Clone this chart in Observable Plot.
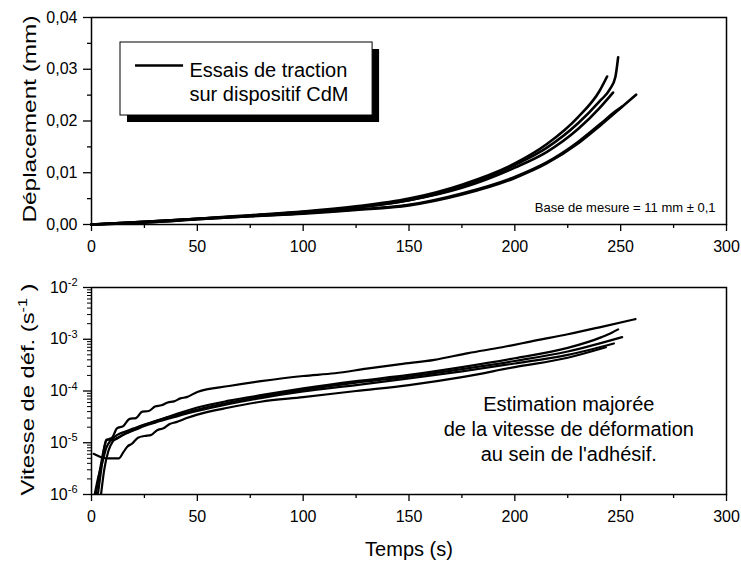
<!DOCTYPE html>
<html><head><meta charset="utf-8">
<script src="https://cdn.jsdelivr.net/npm/d3@7"></script>
<script src="https://cdn.jsdelivr.net/npm/@observablehq/plot@0.6"></script>
<style>
body{margin:0;background:#fff;}
#chart{width:741px;height:562px;background:#fff;}
svg{display:block;}
</style></head><body><div id="chart"></div>
<script>
// ---------- Top panel: Déplacement (mm) vs Temps (s) ----------
const tA = [0,25,50,75,100,125,150,175,200,215,230,240,245,247.5,248.8];
const dA = [0,0.0005,0.0011,0.0017,0.0024,0.0033,0.0047,0.0073,0.0115,0.0148,0.0196,0.0238,0.0262,0.0285,0.0323];
const tB = [0,25,50,75,100,125,150,175,200,215,230,240,243.6];
const dB = [0,0.0005,0.0011,0.0018,0.0025,0.0035,0.0050,0.0077,0.0118,0.0155,0.0208,0.0258,0.0286];
const tC = [0,25,50,75,100,125,150,175,200,215,230,240,246.4];
const dC = [0,0.0005,0.0011,0.0017,0.0024,0.0033,0.0047,0.0071,0.0110,0.0140,0.0185,0.0225,0.0255];
const tD = [0,25,50,75,100,125,150,175,200,215,230,240,250,257.3];
const dD = [0,0.0004,0.0010,0.0016,0.0021,0.0028,0.0037,0.0058,0.0090,0.0118,0.0157,0.0190,0.0225,0.0251];
const tE = [0,25,50,75,100,125,150,175,200,215,230,240,248,250.7];
const dE = [0,0.0004,0.0010,0.0016,0.0022,0.0029,0.0038,0.0060,0.0092,0.0120,0.0160,0.0193,0.0220,0.0228];

// ---------- Bottom panel: Vitesse de déformation (s-1) vs Temps (s) ----------
const tR1 = [2,4,6,7,10,12,15,18,21,24,27,30,33,36,39,42,45,50,65,80,100,115,130,146,162,178,194,210,225,240,257];
const vR1 = [1e-6,3e-6,8e-6,1.1e-5,1.3e-5,1.9e-5,2.1e-5,2.9e-5,3.0e-5,4.0e-5,4.1e-5,5.0e-5,5.3e-5,6.0e-5,6.3e-5,7.2e-5,7.6e-5,9.6e-5,1.25e-4,1.55e-4,1.95e-4,2.2e-4,2.7e-4,3.3e-4,4.0e-4,5.4e-4,7.0e-4,9.5e-4,1.25e-3,1.7e-3,2.45e-3];
const tR2 = [1.5,3,5,7,9,12,16,20,25,30,40,50,65,80,100,125,150,175,200,225,241,246,248.8];
const vR2 = [1e-6,2e-6,4e-6,8e-6,1.1e-5,1.4e-5,1.65e-5,1.9e-5,2.25e-5,2.6e-5,3.6e-5,4.8e-5,6.5e-5,8.3e-5,1.12e-4,1.55e-4,2.05e-4,2.9e-4,4.3e-4,6.8e-4,1.1e-3,1.35e-3,1.55e-3];
const tR3 = [3,5,6,7,11,12,16,20,25,30,40,50,65,80,100,125,150,175,200,225,250.7];
const vR3 = [1e-6,4e-6,8e-6,1.15e-5,1.15e-5,1.2e-5,1.5e-5,1.8e-5,2.2e-5,2.6e-5,3.4e-5,4.4e-5,6.0e-5,7.8e-5,1.05e-4,1.45e-4,1.9e-4,2.65e-4,3.8e-4,5.8e-4,1.1e-3];
const tR4 = [4.5,6,8,10,13,17,21,25,30,40,50,65,80,100,125,150,175,200,225,246.8];
const vR4 = [1e-6,3e-6,7e-6,1.05e-5,1.3e-5,1.55e-5,1.8e-5,2.1e-5,2.45e-5,3.2e-5,4.1e-5,5.6e-5,7.3e-5,9.8e-5,1.3e-4,1.75e-4,2.4e-4,3.4e-4,5.0e-4,8.3e-4];
const tR5 = [1,3,5,8,13,15,17,19,22,25,28,31,34,37,40,45,50,65,80,100,125,150,175,200,225,243];
const vR5 = [6.1e-6,5.6e-6,5.2e-6,5.0e-6,5.0e-6,6.5e-6,8.5e-6,9.5e-6,1.25e-5,1.35e-5,1.4e-5,1.75e-5,1.9e-5,2.3e-5,2.5e-5,3.0e-5,3.5e-5,4.8e-5,6.2e-5,7.6e-5,1.0e-4,1.3e-4,1.85e-4,2.9e-4,4.4e-4,7.0e-4];

// ---------- Ticks and texts ----------
const xMajor = [0,50,100,150,200,250,300];
const xMinor = [25,75,125,175,225,275];
const yMajorTop = [0,0.01,0.02,0.03,0.04];
const yMinorTop = [0.005,0.015,0.025,0.035];
const yMajorLog = [1e-6,1e-5,1e-4,1e-3,1e-2];
const yMinorLog = [1e-6,1e-5,1e-4,1e-3].flatMap(p => [2,3,4,5,6,7,8,9].map(m => m*p));
const legendText = "Essais de traction\nsur dispositif CdM";
const baseText = "Base de mesure = 11 mm \u00b1 0,1";
const noteText = "Estimation majorée\nde la vitesse de déformation\nau sein de l'adhésif.";
const yLabelTop = "Déplacement (mm)";
const yLabelBottom = "Vitesse de déf. (s";
const xLabel = "Temps (s)";

const toRows = (name, ts, vs) => ts.map((t, i) => ({serie: name, t, v: vs[i]}));
const topRows = [
  ...toRows("A", tA, dA), ...toRows("B", tB, dB), ...toRows("C", tC, dC),
  ...toRows("D", tD, dD), ...toRows("E", tE, dE)
];
const botRows = [
  ...toRows("R1", tR1, vR1), ...toRows("R2", tR2, vR2), ...toRows("R3", tR3, vR3),
  ...toRows("R4", tR4, vR4), ...toRows("R5", tR5, vR5)
];

const font = "'Liberation Sans', Arial, Helvetica, sans-serif";
const comma = d => d3.format(".2f")(d).replace(".", ",");
const style = {fontFamily: font, fontSize: "16px", background: "white", color: "black", overflow: "visible"};

const topPlot = Plot.plot({
  width: 741, height: 250,
  marginLeft: 91, marginRight: 15, marginTop: 17, marginBottom: 26,
  style,
  x: {domain: [0, 300]},
  y: {domain: [0, 0.04]},
  marks: [
    Plot.axisX({ticks: xMajor, tickSize: 7, tickPadding: 9, tickFormat: d => String(d), label: null, strokeWidth: 1.3}),
    Plot.axisX({ticks: xMinor, tickSize: 4, tickFormat: () => "", label: null, strokeWidth: 1.3}),
    Plot.axisY({ticks: yMajorTop, tickSize: 8, tickPadding: 6, tickFormat: comma, label: null, strokeWidth: 1.3}),
    Plot.axisY({ticks: yMinorTop, tickSize: 4, tickFormat: () => "", label: null, strokeWidth: 1.3}),
    Plot.frame({stroke: "black", strokeWidth: 1.5}),
    Plot.line(topRows, {x: "t", y: "v", z: "serie", stroke: "black", strokeWidth: 2.6, curve: "monotone-x"}),
    // legend box with shadow
    Plot.rect([0], {x1: 13.7, x2: 132.8, y1: 0.03517, y2: 0.02106, fill: "black", dx: 7, dy: 7}),
    Plot.rect([0], {x1: 13.7, x2: 132.8, y1: 0.03517, y2: 0.02106, fill: "white", stroke: "black", strokeWidth: 1}),
    Plot.ruleY([0.03072], {x1: 20.8, x2: 43.5, stroke: "black", strokeWidth: 2.6}),
    Plot.text([legendText], {x: 46.3, y: 0.03183, text: d => d, textAnchor: "start", lineAnchor: "top", lineHeight: 1.2, fontSize: 20}),
    Plot.text([baseText], {x: 294.8, y: 0.00319, text: d => d, textAnchor: "end", fontSize: 13}),
    Plot.text([yLabelTop], {frameAnchor: "left", text: d => d, textAnchor: "middle", lineAnchor: "middle", rotate: -90, dx: -62, dy: -2, fontSize: 19, ariaLabel: () => "ylab-top"})
  ]
});

const botPlot = Plot.plot({
  width: 741, height: 312,
  marginLeft: 91, marginRight: 15, marginTop: 37, marginBottom: 68,
  style,
  x: {domain: [0, 300]},
  y: {type: "log", domain: [1e-6, 1e-2]},
  marks: [
    Plot.axisX({ticks: xMajor, tickSize: 7, tickPadding: 9, tickFormat: d => String(d), label: null, strokeWidth: 1.3}),
    Plot.axisX({ticks: xMinor, tickSize: 4, tickFormat: () => "", label: null, strokeWidth: 1.3}),
    Plot.axisY({ticks: yMajorLog, tickSize: 8, tickPadding: 6, tickFormat: d => "10^" + Math.round(Math.log10(d)), label: null, strokeWidth: 1.3}),
    Plot.axisY({ticks: yMinorLog, tickSize: 4, tickFormat: () => "", label: null, strokeWidth: 1}),
    Plot.frame({stroke: "black", strokeWidth: 1.5}),
    Plot.line(botRows, {x: "t", y: "v", z: "serie", stroke: "black", strokeWidth: 2.2, curve: "monotone-x", clip: true}),
    Plot.text([noteText], {x: 225.5, y: 9.05e-5, text: d => d, textAnchor: "middle", lineAnchor: "top", lineHeight: 1.25, fontSize: 20}),
    Plot.text([yLabelBottom], {frameAnchor: "left", text: d => d, textAnchor: "middle", lineAnchor: "middle", rotate: -90, dx: -64, dy: -1.5, fontSize: 19, ariaLabel: () => "ylab-bottom"}),
    Plot.text([xLabel], {frameAnchor: "bottom", text: d => d, lineAnchor: "middle", dy: 54.6, fontSize: 20})
  ]
});

const chart = document.getElementById("chart");
chart.appendChild(topPlot);
chart.appendChild(botPlot);

// superscripts on log tick labels
d3.select(botPlot).selectAll('g[aria-label="y-axis tick label"] text').each(function() {
  const s = this.textContent;
  if (!s.includes("^")) return;
  const [base, exp] = s.split("^");
  const t = d3.select(this);
  t.text(null);
  t.append("tspan").text(base);
  t.append("tspan").attr("dy", -6.5).attr("font-size", 11).text(exp);
});

// find a rotated label text by its aria-label (on the text or on its group), or by content
function findLabel(svg, key, content) {
  let el = svg.querySelector(`text[aria-label="${key}"]`) || svg.querySelector(`g[aria-label="${key}"] text`);
  if (!el) el = Array.from(svg.querySelectorAll("text")).find(t => t.textContent === content);
  return el;
}

const lb = findLabel(botPlot, "ylab-bottom", yLabelBottom);
if (lb) {
  const t = d3.select(lb);
  const base = lb.textContent;
  t.text(null);
  t.append("tspan").text(base);
  t.append("tspan").attr("dy", -7).attr("font-size", 13).text("-1");
  t.append("tspan").attr("dy", 7).text(" )");
  t.attr("textLength", 212).attr("lengthAdjust", "spacingAndGlyphs");
}
const lt = findLabel(topPlot, "ylab-top", yLabelTop);
if (lt) d3.select(lt).attr("textLength", 207).attr("lengthAdjust", "spacingAndGlyphs");
</script>
</body></html>
